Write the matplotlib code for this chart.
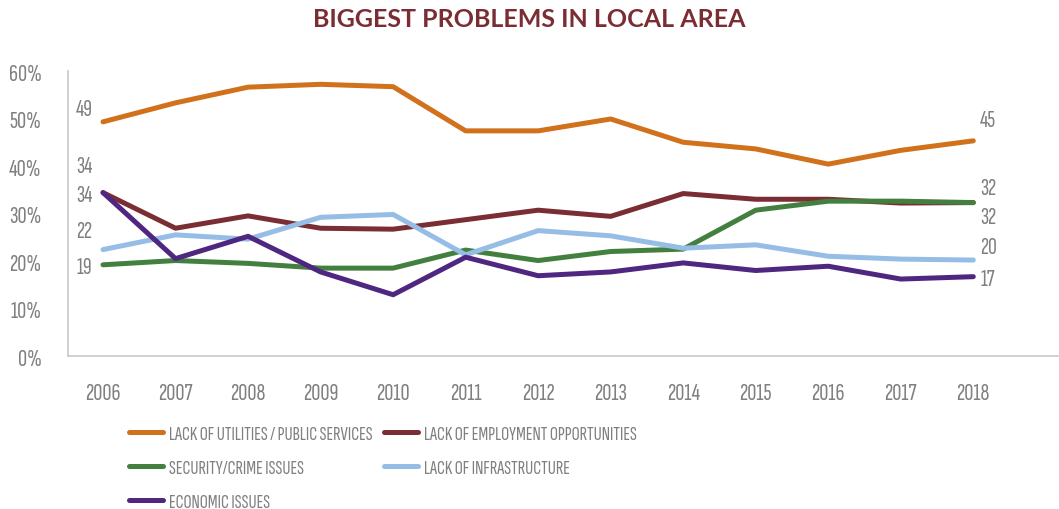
import matplotlib
matplotlib.use("Agg")
import matplotlib.pyplot as plt
from matplotlib.ticker import FuncFormatter

plt.rcParams['font.family'] = ['Sofia Sans Extra Condensed', 'Fira Sans Extra Condensed', 'DejaVu Sans']

years = list(range(2006, 2019))

utilities = [49.3, 53.3, 56.6, 57.2, 56.7, 47.4, 47.4, 49.9, 45.0, 43.6, 40.4, 43.3, 45.3]
employment = [34.4, 26.9, 29.5, 26.9, 26.7, 28.7, 30.7, 29.4, 34.2, 33.0, 33.0, 32.2, 32.3]
security = [19.2, 20.1, 19.5, 18.5, 18.5, 22.3, 20.1, 22.0, 22.5, 30.7, 32.6, 32.6, 32.3]
infrastructure = [22.4, 25.5, 24.6, 29.2, 29.8, 21.3, 26.4, 25.3, 22.7, 23.4, 21.0, 20.4, 20.2]
economic = [34.4, 20.5, 25.2, 17.7, 12.9, 20.8, 16.9, 17.7, 19.6, 18.0, 18.9, 16.2, 16.7]

names = ['LACK OF UTILITIES / PUBLIC SERVICES', 'LACK OF EMPLOYMENT OPPORTUNITIES',
         'SECURITY/CRIME ISSUES', 'LACK OF INFRASTRUCTURE', 'ECONOMIC ISSUES']
series = [utilities, employment, security, infrastructure, economic]
colors = ['#D2711C', '#7B2D34', '#43803F', '#95BDE5', '#4F2680']

# vertical nudges (pixels) for the start / end value labels so they don't collide
start_nudge = [13, 27, -2, 19, -2]
end_nudge = [21, 15, -14, 13, -2]

grey = '#808080'

fig = plt.figure(figsize=(10.59, 5.10), dpi=100)
ax = fig.add_axes([0.0642, 0.30, 0.935, 0.5588])

lines = []
for name, vals, c in zip(names, series, colors):
    ln, = ax.plot(years, vals, color=c, lw=3.6, label=name, solid_capstyle='round')
    lines.append(ln)

for vals, dy in zip(series, start_nudge):
    ax.annotate(f'{round(vals[0])}', (years[0], vals[0]), xytext=(-19, dy),
                textcoords='offset pixels', ha='center', va='center',
                fontsize=17.5, color=grey)
for vals, dy in zip(series, end_nudge):
    ax.annotate(f'{round(vals[-1])}', (years[-1], vals[-1]), xytext=(15, dy),
                textcoords='offset pixels', ha='center', va='center',
                fontsize=17.5, color=grey)

ax.set_xlim(2005.517, 2019.17)
ax.set_ylim(0, 60)
ax.set_xticks(years)
ax.set_yticks(range(0, 61, 10))
ax.yaxis.set_major_formatter(FuncFormatter(lambda v, p: f'{int(v)}%'))
ax.tick_params(length=0, labelsize=18, colors=grey)
ax.tick_params(axis='x', pad=19)
ax.tick_params(axis='y', pad=19)
for s in ['top', 'right']:
    ax.spines[s].set_visible(False)
for s in ['left', 'bottom']:
    ax.spines[s].set_color('#C8C8C8')
    ax.spines[s].set_linewidth(1.2)

fig.text(0.5, 0.961, 'BIGGEST PROBLEMS IN LOCAL AREA', ha='center', va='center',
         fontsize=18, fontweight='bold', color='#7B2D34',
         family=['Lato', 'DejaVu Sans'])

# legend reads row by row: reorder because matplotlib fills columns first
order = [0, 2, 4, 1, 3]
leg = fig.legend([lines[i] for i in order], [names[i] for i in order],
                 loc='upper left', bbox_to_anchor=(0.122, 0.164), ncol=2, frameon=False,
                 fontsize=14.5, handlelength=1.7, handletextpad=0.3, columnspacing=0.55,
                 labelspacing=0.78, borderaxespad=0, borderpad=0)
for t in leg.get_texts():
    t.set_color(grey)

fig.savefig('out.png', dpi=100)
